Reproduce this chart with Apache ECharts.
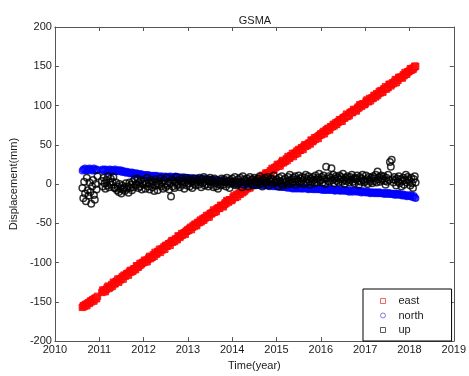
<!DOCTYPE html>
<html>
<head>
<meta charset="utf-8">
<title>GSMA</title>
<script src="https://cdn.jsdelivr.net/npm/echarts@6/dist/echarts.min.js"></script>
<style>
  html, body { margin: 0; padding: 0; background: #fff; }
  #chart { width: 469px; height: 376px; }
</style>
</head>
<body>
<div id="chart"></div>
<script>
// Epoch of each solution (decimal year)
const years = [
  2010.62, 2010.64, 2010.66, 2010.68, 2010.70, 2010.72, 2010.74, 2010.76, 2010.78,
  2010.80, 2010.82, 2010.84, 2010.86, 2010.88, 2010.90, 2010.92, 2010.94, 2010.96,
  2011.06, 2011.08, 2011.10, 2011.12, 2011.14, 2011.16, 2011.18, 2011.20, 2011.22, 2011.24,
  2011.26, 2011.28, 2011.30, 2011.32, 2011.34, 2011.36, 2011.38, 2011.40, 2011.42, 2011.44,
  2011.46, 2011.48, 2011.50, 2011.52, 2011.54, 2011.56, 2011.58, 2011.60, 2011.62, 2011.64,
  2011.66, 2011.68, 2011.70, 2011.72, 2011.74, 2011.76, 2011.78, 2011.80, 2011.82, 2011.84,
  2011.86, 2011.88, 2011.90, 2011.92, 2011.94, 2011.96, 2011.98,
  2012.00, 2012.02, 2012.04, 2012.06, 2012.08, 2012.10, 2012.12, 2012.14, 2012.16, 2012.18,
  2012.20, 2012.22, 2012.24, 2012.26, 2012.28, 2012.30, 2012.32, 2012.34, 2012.36, 2012.38,
  2012.40, 2012.42, 2012.44, 2012.46, 2012.48, 2012.50, 2012.52, 2012.54, 2012.56, 2012.58,
  2012.60, 2012.62, 2012.64, 2012.66, 2012.68, 2012.70, 2012.72, 2012.74, 2012.76, 2012.78,
  2012.80, 2012.82, 2012.84, 2012.86, 2012.88, 2012.90, 2012.92, 2012.94, 2012.96, 2012.98,
  2013.00, 2013.02, 2013.04, 2013.06, 2013.08, 2013.10, 2013.12, 2013.14, 2013.16, 2013.18,
  2013.20, 2013.22, 2013.24, 2013.26, 2013.28, 2013.30, 2013.32, 2013.34, 2013.36, 2013.38,
  2013.40, 2013.42, 2013.44, 2013.46, 2013.48, 2013.50, 2013.52, 2013.54, 2013.56, 2013.58,
  2013.60, 2013.62, 2013.64, 2013.66, 2013.68, 2013.70, 2013.72, 2013.74, 2013.76, 2013.78,
  2013.80, 2013.82, 2013.84, 2013.86, 2013.88, 2013.90, 2013.92, 2013.94, 2013.96, 2013.98,
  2014.00, 2014.02, 2014.04, 2014.06, 2014.08, 2014.10, 2014.12, 2014.14, 2014.16, 2014.18,
  2014.20, 2014.22, 2014.24, 2014.26, 2014.28, 2014.30, 2014.32, 2014.34, 2014.36, 2014.38,
  2014.40, 2014.42, 2014.44, 2014.46, 2014.48, 2014.50, 2014.52, 2014.54, 2014.56, 2014.58,
  2014.60, 2014.62, 2014.64, 2014.66, 2014.68, 2014.70, 2014.72, 2014.74, 2014.76, 2014.78,
  2014.80, 2014.82, 2014.84, 2014.86, 2014.88, 2014.90, 2014.92, 2014.94, 2014.96, 2014.98,
  2015.00, 2015.02, 2015.04, 2015.06, 2015.08, 2015.10, 2015.12, 2015.14, 2015.16, 2015.18,
  2015.20, 2015.22, 2015.24, 2015.26, 2015.28, 2015.30, 2015.32, 2015.34, 2015.36, 2015.38,
  2015.40, 2015.42, 2015.44, 2015.46, 2015.48, 2015.50, 2015.52, 2015.54, 2015.56, 2015.58,
  2015.60, 2015.62, 2015.64, 2015.66, 2015.68, 2015.70, 2015.72, 2015.74, 2015.76, 2015.78,
  2015.80, 2015.82, 2015.84, 2015.86, 2015.88, 2015.90, 2015.92, 2015.94, 2015.96, 2015.98,
  2016.00, 2016.02, 2016.04, 2016.06, 2016.08, 2016.10, 2016.12, 2016.14, 2016.16, 2016.18,
  2016.20, 2016.22, 2016.24, 2016.26, 2016.28, 2016.30, 2016.32, 2016.34, 2016.36, 2016.38,
  2016.40, 2016.42, 2016.44, 2016.46, 2016.48, 2016.50, 2016.52, 2016.54, 2016.56, 2016.58,
  2016.60, 2016.62, 2016.64, 2016.66, 2016.68, 2016.70, 2016.72, 2016.74, 2016.76, 2016.78,
  2016.80, 2016.82, 2016.84, 2016.86, 2016.88, 2016.90, 2016.92, 2016.94, 2016.96, 2016.98,
  2017.00, 2017.02, 2017.04, 2017.06, 2017.08, 2017.10, 2017.12, 2017.14, 2017.16, 2017.18,
  2017.20, 2017.22, 2017.24, 2017.26, 2017.28, 2017.30, 2017.32, 2017.34, 2017.36, 2017.38,
  2017.40, 2017.42, 2017.44, 2017.46, 2017.48, 2017.50, 2017.52, 2017.54, 2017.56, 2017.58,
  2017.60, 2017.62, 2017.64, 2017.66, 2017.68, 2017.70, 2017.72, 2017.74, 2017.76, 2017.78,
  2017.80, 2017.82, 2017.84, 2017.86, 2017.88, 2017.90, 2017.92, 2017.94, 2017.96, 2017.98,
  2018.00, 2018.02, 2018.04, 2018.06, 2018.08, 2018.10, 2018.12, 2018.14
];

// East component (mm)
const east = [
  -157, -155, -156, -154, -153, -155, -152, -151, -152, -149, -150, -148, -147, -149, -146, -145, -146, -143,
  -138, -135, -137, -135, -137, -134, -132, -130, -133, -131, -131, -128, -130, -125, -127, -127,
  -124, -124, -121, -125, -121, -122, -120, -118, -121, -116, -117, -117, -114, -114, -116, -112,
  -110, -112, -110, -111, -108, -108, -109, -104, -105, -106, -104, -101, -103, -101, -100,
  -100, -97, -99, -97, -99, -96, -94, -92, -95, -93, -93, -90, -92, -87, -89, -89, -86, -86, -83, -87,
  -83, -84, -82, -80, -83, -78, -79, -79, -76, -76, -78, -74, -72, -74, -72, -73, -70, -70, -71, -66,
  -67, -68, -66, -63, -65, -63, -62, -64, -60, -60,
  -58, -59, -57, -55, -58, -55, -53, -54, -51, -52, -53, -49, -49, -49, -46, -48, -46, -44, -46, -43,
  -43, -40, -42, -40, -42, -38, -37, -38, -36, -33, -36, -34, -35, -31, -31, -30, -31, -27, -28, -28,
  -29, -26, -24, -25, -21, -22, -23, -20, -20, -21,
  -20, -17, -15, -17, -17, -13, -16, -13, -12, -13, -9, -10, -11, -7, -9, -7, -4, -6, -3, -4,
  -5, -1, -1, 2, -1, 1, 1, 5, 5, 3, 5, 7, 6, 8, 11, 7, 11, 10, 14, 13,
  14, 14, 13, 17, 16, 20, 18, 18, 21, 21,
  22, 25, 23, 25, 23, 26, 28, 30, 27, 29, 29, 32, 30, 35, 33, 33, 36, 36, 39, 35,
  39, 38, 40, 42, 39, 44, 43, 43, 46, 46, 44, 48, 50, 48, 50, 49, 52, 52, 51, 56,
  55, 54, 56, 59, 57, 59, 60, 58, 62, 62,
  64, 63, 65, 67, 64, 67, 69, 68, 71, 70, 69, 73, 73, 73, 76, 74, 76, 78, 76, 79,
  79, 82, 80, 82, 80, 84, 85, 84, 86, 89, 86, 88, 87, 91, 91, 92, 91, 95, 94, 94,
  93, 96, 98, 97, 101, 100, 99, 102, 102, 101,
  102, 105, 107, 105, 105, 109, 106, 109, 110, 109, 113, 112, 111, 115, 113, 115, 118, 116, 119, 118,
  117, 121, 121, 124, 121, 123, 123, 127, 127, 125, 127, 129, 128, 130, 133, 129, 133, 132, 136, 135,
  136, 136, 135, 139, 138, 142, 140, 140, 143, 143,
  144, 147, 145, 147, 146, 148, 150, 150
];

// North component (mm)
const north = [
  17, 19, 18, 20, 18, 17, 19, 18, 20, 19, 18, 17, 19, 20, 18, 17, 19, 18,
  18, 19, 17, 18, 19, 17, 18, 16, 17, 19, 18, 17, 16, 18, 17, 19, 16, 17, 18, 16, 17, 18,
  16, 15, 17, 16, 15, 14, 16, 15, 14, 15, 13, 14, 15, 13, 14, 12, 13, 14, 12, 13, 12, 11, 13, 12, 11,
  12, 11, 12, 10, 11, 12, 11, 10, 11, 10, 10, 11, 9, 10, 11, 10, 9, 10, 9, 10,
  9, 10, 9, 8, 9, 10, 8, 9, 8, 9, 10, 9, 8, 9, 8, 9, 10, 8, 9, 8,
  8, 9, 8, 7, 8, 9, 7, 8, 7, 8,
  7, 8, 7, 6, 7, 8, 6, 7, 6, 7, 6, 7, 6, 5, 6, 7, 5, 6, 7, 6,
  5, 6, 5, 4, 6, 5, 4, 5, 6, 4, 5, 4, 3, 5, 4, 3, 4, 5, 3, 4,
  3, 4, 2, 3, 4, 2, 3, 2, 3, 2,
  2, 1, 2, 3, 1, 2, 1, 0, 2, 1, 1, 0, 2, 1, 0, 1, -1, 0, 1, 0,
  0, -1, 1, 0, -1, 0, -1, -2, 0, -1, -1, 0, -2, -1, 0, -1, -2, -1, -2, -1,
  -2, -1, -3, -2, -1, -2, -3, -2, -1, -3,
  -2, -3, -2, -3, -4, -2, -3, -4, -3, -4, -4, -3, -5, -4, -3, -5, -4, -5, -6, -4,
  -5, -6, -4, -5, -6, -5, -4, -6, -5, -6, -5, -6, -4, -5, -6, -5, -7, -6, -5, -6,
  -6, -7, -5, -6, -7, -6, -5, -7, -6, -7,
  -6, -7, -8, -6, -7, -8, -7, -6, -8, -7, -7, -8, -6, -7, -8, -7, -9, -8, -7, -8,
  -8, -9, -7, -8, -9, -8, -7, -9, -8, -9, -8, -9, -10, -8, -9, -8, -10, -9, -8, -9,
  -9, -10, -8, -9, -10, -9, -11, -10, -9, -10,
  -10, -11, -9, -10, -11, -10, -12, -11, -10, -11, -11, -12, -10, -11, -12, -11, -10, -12, -11, -12,
  -12, -11, -13, -12, -11, -12, -13, -11, -12, -13, -12, -13, -12, -14, -13, -12, -14, -13, -12, -14,
  -13, -14, -15, -13, -14, -15, -14, -16, -15, -14,
  -15, -16, -14, -16, -17, -15, -17, -18
];

// Up component (mm)
const up = [
  -5, -18, 3, -12, -22, 8, -8, -15, 2, -10, -25, -3, 5, -14, -20, 0, -7, 10,
  4, -3, 8, 1, -6, 5, -2, 10, -4, 2, 7, -1, 3, 9, -5,
  -5, 2, -8, -3, -10, 0, -6, -12, -2, -7, -4, -9, 1, -6, -3, -11, 2, -5, -1, -8,
  3, -4, 6, -2, 0, 7, -5, 2, -3, 5, -7, 1,
  -1, 4, -6, 1, 8, -3, 2, -7, 5, 0, -4, 3, -9, 6, -2, 1, -8, 4, -1, 7,
  -3, 2, -6, 5, 0, -4, 8, -2, 3, -7, 1, -16, 6, -3, 4, -5, 2, 9, -2, 0,
  5, -4, 3, 7, -1, 4, -6, 2, 8, -2,
  5, 1, -3, 6, 3, -5, 4, 0, 7, -2, 3, 5, -1, 8, 2, -4, 6, 1, 9, -2,
  4, 0, 6, -3, 3, 8, -1, 5, 2, -4, 7, 1, -3, 5, -6, 0, 4, -2, 7, 3,
  -1, 6, 2, -3, 8, 4, 0, -5, 5, 1,
  7, 3, -1, 9, 4, -2, 0, 6, 2, 8, 3, -4, 10, -1, 6, 4, 1, 7, -3, 3,
  9, 5, 0, 6, -2, 8, 2, 4, -1, 7, 3, 10, 0, 5, -3, 6, 2, 8, 1, 4,
  9, -2, 5, 3, 7, 0, 6, 11, 2, 4,
  6, 2, -3, 8, 4, 0, 10, -2, 5, 1, 7, 3, -1, 9, 4, 12, 0, 6, 2, 8,
  3, 10, -1, 6, 4, 11, 1, 7, 3, 9, 5, 0, 8, 12, 2, 6, 10, 4, -1, 7,
  3, 9, 5, 1, 11, 6, 2, 8, 13, 4,
  5, 9, 2, 11, 6, 0, 22, 7, 4, 10, 3, 8, 20, 5, 12, 1, 7, 10, 4, 8,
  2, 11, 6, 9, 3, 13, 5, 0, 8, 4, 10, 6, 2, 9, 5, 12, 3, 7, 1, 8,
  6, 11, 4, -1, 9, 3, 7, 12, 5, 2,
  4, 11, 6, 0, 9, 5, 3, 8, 1, 10, 7, 4, 12, 2, 16, 6, 9, 3, 11, 5,
  7, 10, 4, -1, 8, 3, 12, 5, 28, 22, 31, 6, 2, 9, 5, -2, 7, 3, 10, 1,
  6, -3, 4, 8, -1, 5, 12, 2, 9, 6,
  4, -2, 8, 1, -5, 6, 10, 2
];

const seriesNames = ['east', 'north', 'up'];
const xTicks = [2010, 2019, 1];     // min, max, step
const yTicks = [-200, 200, 50];

const FONT = '"Liberation Sans", Arial, sans-serif';
const TEXT = '#1a1a1a';
const AXIS = '#555';

const pairs = (vals) => vals.map((v, i) => [years[i], v]);

const chart = echarts.init(document.getElementById('chart'), null, { renderer: 'canvas' });

const boxAxis = {
  axisLine: { show: true, onZero: false, lineStyle: { color: AXIS, width: 1 } },
  axisTick: { show: true, inside: true, length: 4, lineStyle: { color: AXIS } },
  axisLabel: { show: false },
  splitLine: { show: false }
};

chart.setOption({
  animation: false,
  backgroundColor: '#fff',
  textStyle: { fontFamily: FONT },
  title: {
    text: 'GSMA',
    left: 250,
    textAlign: 'center',
    top: 10,
    textStyle: { fontSize: 11, fontWeight: 'normal', color: TEXT, fontFamily: FONT }
  },
  grid: { left: 45, right: 13, top: 27, bottom: 25, containLabel: false },
  xAxis: [
    {
      type: 'value', position: 'bottom',
      min: xTicks[0], max: xTicks[1], interval: xTicks[2],
      name: 'Time(year)', nameLocation: 'middle', nameGap: 14,
      nameTextStyle: { fontSize: 11, color: TEXT, fontFamily: FONT },
      axisLine: { show: true, onZero: false, lineStyle: { color: AXIS, width: 1 } },
      axisTick: { show: true, inside: true, length: 4, lineStyle: { color: AXIS } },
      axisLabel: { fontSize: 11, color: TEXT, margin: 3, fontFamily: FONT, formatter: (v) => String(v) },
      splitLine: { show: false }
    },
    Object.assign({
      type: 'value', position: 'top',
      min: xTicks[0], max: xTicks[1], interval: xTicks[2]
    }, boxAxis)
  ],
  yAxis: [
    {
      type: 'value', position: 'left',
      min: yTicks[0], max: yTicks[1], interval: yTicks[2],
      name: 'Displacement(mm)', nameLocation: 'middle', nameGap: 27,
      nameTextStyle: { fontSize: 11, color: TEXT, fontFamily: FONT },
      axisLine: { show: true, onZero: false, lineStyle: { color: AXIS, width: 1 } },
      axisTick: { show: true, inside: true, length: 4, lineStyle: { color: AXIS } },
      axisLabel: { fontSize: 11, color: TEXT, margin: 3, fontFamily: FONT },
      splitLine: { show: false }
    },
    Object.assign({
      type: 'value', position: 'right',
      min: yTicks[0], max: yTicks[1], interval: yTicks[2]
    }, boxAxis)
  ],
  legend: {
    orient: 'vertical',
    left: 363,
    top: 289,
    padding: [6, 28, 5, 17],
    itemGap: 2.5,
    itemWidth: 5,
    itemHeight: 5,
    borderColor: '#000',
    borderWidth: 1,
    backgroundColor: '#fff',
    textStyle: { fontSize: 11, color: TEXT, lineHeight: 12, padding: [0, 0, 0, 8], fontFamily: FONT },
    data: [
      { name: seriesNames[0], icon: 'rect', itemStyle: { color: 'transparent', borderColor: '#f04040', borderWidth: 1 } },
      { name: seriesNames[1], icon: 'circle', itemStyle: { color: 'transparent', borderColor: '#6060e0', borderWidth: 1 } },
      { name: seriesNames[2], icon: 'rect', itemStyle: { color: 'transparent', borderColor: '#333', borderWidth: 1 } }
    ]
  },
  series: [
    {
      name: seriesNames[0], type: 'scatter', silent: true,
      symbol: 'rect', symbolSize: 6.5,
      itemStyle: { color: '#ff1010', borderColor: '#ff0000', borderWidth: 1 },
      data: pairs(east)
    },
    {
      name: seriesNames[1], type: 'scatter', silent: true,
      symbol: 'circle', symbolSize: 6,
      itemStyle: { color: 'transparent', borderColor: '#0000ff', borderWidth: 1.5 },
      data: pairs(north)
    },
    {
      name: seriesNames[2], type: 'scatter', silent: true,
      symbol: 'circle', symbolSize: 6.5,
      itemStyle: { color: 'transparent', borderColor: '#000000', borderWidth: 1.5 },
      data: pairs(up)
    }
  ]
});
</script>
</body>
</html>
